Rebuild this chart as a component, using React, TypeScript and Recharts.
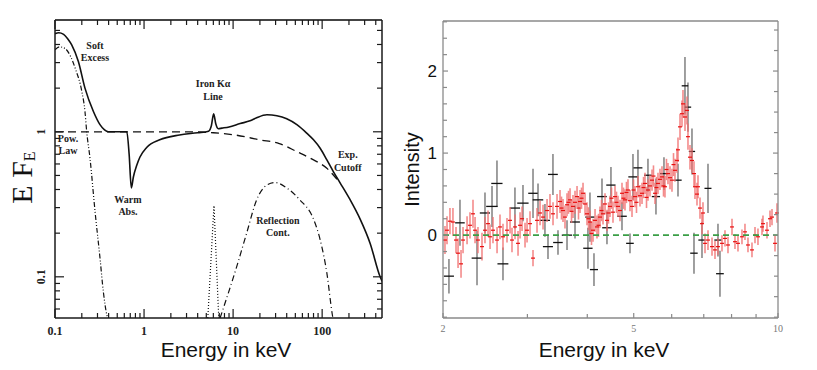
import React from 'react';
import {
  ComposedChart,
  Line,
  XAxis,
  YAxis,
  ReferenceDot,
  ScatterChart,
  Scatter,
  ErrorBar,
  ReferenceLine,
} from 'recharts';

const SERIF = '"Liberation Serif", "Times New Roman", serif';
const SANS = '"Liberation Sans", Arial, sans-serif';

// ---- left panel: model components, [energy keV, E*F_E] ----
const totalModel: [number, number][] = [
  [0.1, 4.75], [0.11, 4.82], [0.125, 4.7], [0.14, 4.35], [0.154, 3.98], [0.183, 3.05],
  [0.217, 2.0], [0.27, 1.38], [0.32, 1.12], [0.36, 1.03], [0.397, 1.0], [0.5, 1.0],
  [0.64, 1.0], [0.68, 0.7], [0.72, 0.41], [0.76, 0.49], [0.83, 0.59], [0.9, 0.67],
  [1.07, 0.78], [1.5, 0.88], [2.5, 0.95], [4, 0.985], [5.3, 1.01], [5.7, 1.1],
  [6.05, 1.33], [6.4, 1.13], [6.8, 1.05], [7.5, 1.06], [9, 1.08], [12, 1.14],
  [15.5, 1.19], [18.4, 1.25], [24, 1.31], [31, 1.29], [40, 1.23], [52, 1.12],
  [67, 0.98], [80, 0.88], [95, 0.77], [113, 0.64], [134, 0.53], [159, 0.445],
  [206, 0.34], [267, 0.25], [346, 0.17], [448, 0.1], [472, 0.093],
];
const powerLaw: [number, number][] = [
  [0.1, 1.0], [1, 1.0], [3, 1.0], [6, 0.985], [10, 0.955], [20, 0.88], [33, 0.83],
  [52, 0.73], [80, 0.64], [113, 0.56], [135, 0.5], [158, 0.445],
];
const softExcess: [number, number][] = [
  [0.1, 3.68], [0.113, 3.85], [0.13, 3.75], [0.15, 3.3], [0.17, 2.7], [0.2, 1.9],
  [0.217, 1.38], [0.227, 1.0], [0.247, 0.66], [0.282, 0.28], [0.32, 0.135],
  [0.349, 0.079], [0.381, 0.055], [0.39, 0.052],
];
const ironLine: [number, number][] = [[5.2, 0.052], [6.1, 0.31], [6.9, 0.052]];
const reflection: [number, number][] = [
  [7.14, 0.052], [11, 0.118], [14.2, 0.2], [18.4, 0.34], [24, 0.43], [29.7, 0.447],
  [40, 0.41], [56, 0.34], [80, 0.25], [95, 0.18], [113, 0.106], [130, 0.055], [132, 0.052],
];

const leftXTicks = [
  0.1, 0.2, 0.3, 0.4, 0.5, 0.6, 0.7, 0.8, 0.9, 1, 2, 3, 4, 5, 6, 7, 8, 9,
  10, 20, 30, 40, 50, 60, 70, 80, 90, 100, 200, 300, 400,
];
const leftXMajor = [0.1, 1, 10, 100];
const leftYTicks = [
  0.06, 0.07, 0.08, 0.09, 0.1, 0.2, 0.3, 0.4, 0.5, 0.6, 0.7, 0.8, 0.9, 1, 2, 3, 4, 5,
];
const leftYMajor = [0.1, 1];

const notes = [
  { e: 0.281, f: 3.59, lines: ['Soft', 'Excess'] },
  { e: 5.96, f: 1.95, lines: ['Iron K\u03b1', 'Line'] },
  { e: 0.14, f: 0.82, lines: ['Pow.', 'Law'] },
  { e: 0.66, f: 0.311, lines: ['Warm', 'Abs.'] },
  { e: 194, f: 0.63, lines: ['Exp.', 'Cutoff'] },
  { e: 31.8, f: 0.223, lines: ['Reflection', 'Cont.'] },
];

// ---- right panel: residual spectrum ----
// black: [energy keV, intensity, error, bin half-width keV]
const blackBins: [number, number, number, number][] = [
  [2.058, -0.5, 0.21, 0.05], [2.17, 0.15, 0.28, 0.05], [2.355, -0.28, 0.33, 0.06],
  [2.447, 0.27, 0.25, 0.06], [2.531, 0.35, 0.25, 0.07], [2.592, 0.63, 0.28, 0.07],
  [2.668, -0.35, 0.2, 0.07], [2.826, 0.33, 0.25, 0.07], [2.937, 0.39, 0.22, 0.08],
  [3.082, 0.51, 0.3, 0.07], [3.157, 0.43, 0.2, 0.08], [3.264, 0.18, 0.2, 0.08],
  [3.312, -0.14, 0.15, 0.08], [3.392, 0.74, 0.25, 0.08], [3.475, -0.09, 0.15, 0.08],
  [3.629, 0.0, 0.18, 0.09], [3.771, 0.16, 0.2, 0.09], [4.013, -0.16, 0.25, 0.09],
  [4.052, 0.22, 0.3, 0.09], [4.131, -0.42, 0.2, 0.08], [4.293, 0.47, 0.22, 0.1],
  [4.397, 0.09, 0.2, 0.1], [4.482, 0.61, 0.22, 0.1], [4.726, 0.23, 0.17, 0.11],
  [4.911, -0.1, 0.12, 0.09], [4.982, 0.71, 0.28, 0.11], [5.103, 0.82, 0.22, 0.11],
  [5.354, 0.73, 0.2, 0.1], [5.564, 0.47, 0.22, 0.11], [5.782, 0.75, 0.2, 0.11],
  [6.185, 0.67, 0.2, 0.11], [6.396, 1.82, 0.35, 0.1], [6.489, 1.56, 0.3, 0.1],
  [6.615, 1.02, 0.28, 0.1], [6.679, -0.22, 0.25, 0.12], [6.941, -0.06, 0.22, 0.12],
  [7.144, 0.57, 0.3, 0.12], [7.495, -0.06, 0.2, 0.13], [7.567, -0.47, 0.28, 0.14],
];

// red: [energy keV, intensity, error]
const redBins: [number, number, number][] = [
  [2.019, -0.06, 0.17], [2.039, 0.06, 0.17], [2.068, 0.17, 0.16], [2.098, 0.16, 0.17],
  [2.129, -0.06, 0.16], [2.15, -0.22, 0.18], [2.181, -0.35, 0.17], [2.202, -0.06, 0.16],
  [2.245, 0.06, 0.17], [2.277, 0.12, 0.16], [2.31, 0.26, 0.17], [2.333, 0.06, 0.16],
  [2.366, -0.06, 0.16], [2.412, -0.14, 0.17], [2.447, 0.06, 0.16], [2.483, 0.14, 0.16],
  [2.507, -0.02, 0.15], [2.543, 0.06, 0.16], [2.593, -0.06, 0.16], [2.63, 0.1, 0.15],
  [2.668, -0.02, 0.16], [2.72, 0.06, 0.15], [2.76, 0.18, 0.16], [2.786, -0.06, 0.15],
  [2.827, 0.1, 0.15], [2.868, -0.1, 0.15], [2.896, 0.12, 0.16], [2.924, 0.2, 0.15],
  [2.966, 0.0, 0.15], [2.995, 0.06, 0.15], [3.038, 0.14, 0.15], [3.082, -0.28, 0.1],
  [3.142, 0.18, 0.15], [3.188, 0.27, 0.15], [3.234, 0.22, 0.15], [3.297, 0.3, 0.14],
  [3.344, 0.35, 0.15], [3.393, 0.26, 0.14], [3.459, 0.35, 0.15], [3.509, 0.41, 0.14],
  [3.534, 0.33, 0.14], [3.56, 0.3, 0.14], [3.594, 0.22, 0.14], [3.629, 0.37, 0.14],
  [3.655, 0.4, 0.14], [3.682, 0.43, 0.14], [3.708, 0.29, 0.14], [3.735, 0.35, 0.14],
  [3.771, 0.4, 0.14], [3.808, 0.47, 0.13], [3.835, 0.33, 0.14], [3.863, 0.41, 0.14],
  [3.891, 0.45, 0.13], [3.919, 0.51, 0.13], [3.957, 0.38, 0.14], [3.995, 0.26, 0.14],
  [4.024, 0.2, 0.14], [4.053, 0.16, 0.14], [4.082, 0.02, 0.14], [4.112, 0.06, 0.14],
  [4.152, 0.18, 0.14], [4.191, 0.1, 0.14], [4.222, 0.12, 0.14], [4.252, 0.22, 0.13],
  [4.283, 0.3, 0.13], [4.314, 0.26, 0.13], [4.356, 0.38, 0.13], [4.398, 0.18, 0.13],
  [4.43, 0.27, 0.13], [4.461, 0.35, 0.13], [4.494, 0.45, 0.13], [4.526, 0.28, 0.13],
  [4.57, 0.47, 0.13], [4.603, 0.4, 0.13], [4.636, 0.35, 0.13], [4.681, 0.3, 0.13],
  [4.726, 0.51, 0.13], [4.76, 0.45, 0.13], [4.795, 0.43, 0.13], [4.829, 0.52, 0.13],
  [4.864, 0.55, 0.13], [4.911, 0.42, 0.13], [4.959, 0.35, 0.13], [4.995, 0.55, 0.13],
  [5.031, 0.47, 0.13], [5.067, 0.4, 0.13], [5.104, 0.59, 0.13], [5.153, 0.48, 0.13],
  [5.203, 0.51, 0.13], [5.241, 0.58, 0.13], [5.278, 0.63, 0.13], [5.317, 0.46, 0.13],
  [5.355, 0.55, 0.13], [5.406, 0.6, 0.13], [5.459, 0.67, 0.13], [5.498, 0.72, 0.13],
  [5.538, 0.51, 0.13], [5.578, 0.58, 0.13], [5.618, 0.63, 0.13], [5.672, 0.68, 0.13],
  [5.727, 0.71, 0.13], [5.769, 0.6, 0.13], [5.81, 0.59, 0.13], [5.852, 0.8, 0.13],
  [5.895, 0.75, 0.13], [5.952, 0.7, 0.14], [6.009, 0.67, 0.14], [6.053, 0.86, 0.14],
  [6.096, 0.79, 0.14], [6.155, 0.91, 0.15], [6.185, 1.04, 0.15], [6.245, 1.32, 0.16],
  [6.305, 1.48, 0.16], [6.335, 1.6, 0.17], [6.397, 1.44, 0.17], [6.458, 1.52, 0.17],
  [6.489, 1.2, 0.16], [6.552, 0.95, 0.15], [6.615, 0.91, 0.15], [6.679, 0.75, 0.15],
  [6.711, 0.59, 0.15], [6.776, 0.5, 0.14], [6.809, 0.59, 0.14], [6.875, 0.33, 0.13],
  [6.941, 0.14, 0.13], [6.974, 0.27, 0.13], [7.042, -0.1, 0.12], [7.144, -0.06, 0.12],
  [7.283, -0.14, 0.11], [7.388, -0.18, 0.11], [7.495, -0.14, 0.1], [7.641, -0.1, 0.1],
  [7.752, -0.04, 0.1], [7.864, -0.12, 0.1], [8.017, 0.1, 0.1], [8.133, -0.08, 0.09],
  [8.251, -0.1, 0.1], [8.411, -0.02, 0.09], [8.533, 0.04, 0.1], [8.657, -0.12, 0.09],
  [8.825, -0.18, 0.09], [8.954, 0.0, 0.1], [9.083, -0.02, 0.1], [9.26, 0.1, 0.1],
  [9.304, 0.14, 0.1], [9.485, 0.06, 0.1], [9.623, 0.2, 0.1], [9.716, 0.22, 0.1],
  [9.857, -0.1, 0.1], [9.952, 0.27, 0.12],
];
// red bins have a constant width in log energy (half-width as a fraction of E)
const RED_HALF_BIN = 0.0096;

const rightXTicks = [2, 3, 4, 5, 6, 7, 8, 9, 10];
const rightXMajor = [2, 5, 10];
const rightYTicksL = [
  -1, -0.8, -0.6, -0.4, -0.2, 0, 0.2, 0.4, 0.6, 0.8, 1, 1.2, 1.4, 1.6, 1.8, 2, 2.2, 2.4, 2.6,
];
const rightYTicksR = [
  -1, -0.75, -0.5, -0.25, 0, 0.25, 0.5, 0.75, 1, 1.25, 1.5, 1.75, 2, 2.25, 2.5,
];
const rightYMajor = [0, 1, 2];

const toPts = (arr: [number, number][]) => arr.map(([e, f]) => ({ e, f }));

const blackPts = blackBins.map(([x, y, ey, ex]) => ({ x, y, ey, ex }));
const redPts = redBins.map(([x, y, ey]) => ({ x, y, ey, ex: x * RED_HALF_BIN }));

type Side = 'bottom' | 'top' | 'left' | 'right';

function makeTick(
  side: Side,
  majors: number[],
  majorLen: number,
  minorLen: number,
  stroke: string,
  label?: (x: number, y: number, v: number) => React.ReactNode
) {
  return (props: any) => {
    const { x, y, payload } = props;
    const v = payload.value;
    const isMajor = majors.some((m) => Math.abs(m - v) < 1e-9);
    const len = isMajor ? majorLen : minorLen;
    let x2 = x;
    let y2 = y;
    if (side === 'bottom') y2 = y - len;
    if (side === 'top') y2 = y + len;
    if (side === 'left') x2 = x + len;
    if (side === 'right') x2 = x - len;
    return (
      <g>
        <line x1={x} y1={y} x2={x2} y2={y2} stroke={stroke} strokeWidth={1.2} />
        {isMajor && label ? label(x, y, v) : null}
      </g>
    );
  };
}

const xTitle = (text: string, dx: number, dy: number) => (p: any) => {
  const vb = p.viewBox;
  return (
    <text x={vb.x + vb.width / 2 + dx} y={vb.y + dy} textAnchor="middle" fontFamily={SANS} fontSize={21} fill="#111">
      {text}
    </text>
  );
};

const leftYTitle = (p: any) => {
  const vb = p.viewBox;
  const cx = vb.x + 32;
  const cy = vb.y + vb.height / 2 + 8.5;
  return (
    <text transform={`rotate(-90 ${cx} ${cy})`} x={cx} y={cy} textAnchor="middle" fontFamily={SERIF} fontSize={30} fill="#111">
      E F
      <tspan fontSize={16} dy={3}>E</tspan>
    </text>
  );
};

const rightYTitle = (p: any) => {
  const vb = p.viewBox;
  const cx = vb.x + 19;
  const cy = vb.y + vb.height / 2;
  return (
    <text transform={`rotate(-90 ${cx} ${cy})`} x={cx} y={cy} textAnchor="middle" fontFamily={SANS} fontSize={20} fill="#111">
      Intensity
    </text>
  );
};

const noteLabel = (lines: string[]) => (p: any) => {
  const vb = p.viewBox;
  const cx = vb.x + (vb.width || 0) / 2;
  const cy = vb.y + (vb.height || 0) / 2;
  return (
    <text textAnchor="middle" fontFamily={SERIF} fontWeight="bold" fontSize={10} fill="#222">
      <tspan x={cx} y={cy - 2.5}>{lines[0]}</tspan>
      <tspan x={cx} y={cy + 10}>{lines[1]}</tspan>
    </text>
  );
};

const leftXLabel = (x: number, y: number, v: number) => (
  <text x={x} y={y + 17} textAnchor="middle" fontFamily={SERIF} fontWeight="bold" fontSize={12} fill="#222">
    {String(v)}
  </text>
);
const leftYLabel = (x: number, y: number, v: number) => {
  const tx = x - 10;
  return (
    <text transform={`rotate(-90 ${tx} ${y})`} x={tx} y={y} textAnchor="middle" fontFamily={SERIF} fontWeight="bold" fontSize={12} fill="#222">
      {String(v)}
    </text>
  );
};
const rightXLabel = (x: number, y: number, v: number) => (
  <text x={x} y={y + 14} textAnchor="middle" fontFamily={SERIF} fontSize={10} fill="#777">
    {String(v)}
  </text>
);
const rightYLabel = (x: number, y: number, v: number) => (
  <text x={x - 6} y={y + 6} textAnchor="end" fontFamily={SANS} fontSize={17} fill="#111">
    {String(v)}
  </text>
);

const Blank = () => <g />;

const LEFT_STROKE = '#1a1a1a';
const RIGHT_STROKE = '#8a8a8a';

const ModelPanel = () => (
  <ComposedChart width={400} height={370} margin={{ top: 0, right: 0, bottom: 0, left: 0 }}>
    <XAxis
      xAxisId="b" dataKey="e" type="number" scale="log" domain={[0.1, 470]} allowDataOverflow
      ticks={leftXTicks} interval={0} tickSize={0} tickMargin={0} height={52}
      axisLine={{ stroke: LEFT_STROKE, strokeWidth: 1.5 }} tickLine={false}
      tick={makeTick('bottom', leftXMajor, 9, 5, LEFT_STROKE, leftXLabel)}
      label={xTitle('Energy in keV', 7.5, 39)}
    />
    <XAxis
      xAxisId="t" orientation="top" dataKey="e" type="number" scale="log" domain={[0.1, 470]} allowDataOverflow
      ticks={leftXTicks} interval={0} tickSize={0} tickMargin={0} height={20}
      axisLine={{ stroke: '#444', strokeWidth: 2 }} tickLine={false}
      tick={makeTick('top', leftXMajor, 9, 5, LEFT_STROKE)}
    />
    <YAxis
      yAxisId="l" type="number" scale="log" domain={[0.052, 5.9]} allowDataOverflow
      ticks={leftYTicks} interval={0} tickSize={0} tickMargin={0} width={55}
      axisLine={{ stroke: LEFT_STROKE, strokeWidth: 1.5 }} tickLine={false}
      tick={makeTick('left', leftYMajor, 9, 5, LEFT_STROKE, leftYLabel)}
      label={leftYTitle}
    />
    <YAxis
      yAxisId="r" orientation="right" type="number" scale="log" domain={[0.052, 5.9]} allowDataOverflow
      ticks={leftYTicks} interval={0} tickSize={0} tickMargin={0} width={18}
      axisLine={{ stroke: LEFT_STROKE, strokeWidth: 1.5 }} tickLine={false}
      tick={makeTick('right', leftYMajor, 9, 5, LEFT_STROKE)}
    />
    <Line xAxisId="b" yAxisId="l" data={toPts(powerLaw)} dataKey="f" type="monotone" dot={false}
      stroke="#111" strokeWidth={1.3} strokeDasharray="8 5" isAnimationActive={false} />
    <Line xAxisId="b" yAxisId="l" data={toPts(softExcess)} dataKey="f" type="monotone" dot={false}
      stroke="#111" strokeWidth={1.2} strokeDasharray="5 2 1 2 1 2" isAnimationActive={false} />
    <Line xAxisId="b" yAxisId="l" data={toPts(ironLine)} dataKey="f" type="linear" dot={false}
      stroke="#111" strokeWidth={1.2} strokeDasharray="1 2" isAnimationActive={false} />
    <Line xAxisId="b" yAxisId="l" data={toPts(reflection)} dataKey="f" type="monotone" dot={false}
      stroke="#111" strokeWidth={1.2} strokeDasharray="6 3 1 3" isAnimationActive={false} />
    <Line xAxisId="b" yAxisId="l" data={toPts(totalModel)} dataKey="f" type="monotone" dot={false}
      stroke="#111" strokeWidth={1.6} isAnimationActive={false} />
    {notes.map((n) => (
      <ReferenceDot key={n.lines[0]} xAxisId="b" yAxisId="l" x={n.e} y={n.f} r={1}
        fill="none" stroke="none" label={noteLabel(n.lines)} />
    ))}
  </ComposedChart>
);

const ResidualPanel = () => (
  <ScatterChart width={417} height={370} margin={{ top: 0, right: 0, bottom: 0, left: 0 }}>
    <XAxis
      xAxisId="b" dataKey="x" type="number" scale="log" domain={[2, 10]} allowDataOverflow
      ticks={rightXTicks} interval={0} tickSize={0} tickMargin={0} height={52}
      axisLine={{ stroke: RIGHT_STROKE, strokeWidth: 1.3 }} tickLine={false}
      tick={makeTick('bottom', rightXMajor, 5, 4, RIGHT_STROKE, rightXLabel)}
      label={xTitle('Energy in keV', -6.5, 39)}
    />
    <XAxis
      xAxisId="t" orientation="top" dataKey="x" type="number" scale="log" domain={[2, 10]} allowDataOverflow
      height={21} tick={false} tickLine={false}
      axisLine={{ stroke: RIGHT_STROKE, strokeWidth: 1.3 }}
    />
    <YAxis
      yAxisId="l" dataKey="y" type="number" domain={[-1.01, 2.61]} allowDataOverflow
      ticks={rightYTicksL} interval={0} tickSize={0} tickMargin={0} width={43}
      axisLine={{ stroke: RIGHT_STROKE, strokeWidth: 1.3 }} tickLine={false}
      tick={makeTick('left', rightYMajor, 5, 4, RIGHT_STROKE, rightYLabel)}
      label={rightYTitle}
    />
    <YAxis
      yAxisId="r" orientation="right" type="number" domain={[-1.01, 2.61]} allowDataOverflow
      ticks={rightYTicksR} interval={0} tickSize={0} tickMargin={0} width={39}
      axisLine={{ stroke: RIGHT_STROKE, strokeWidth: 1.3 }} tickLine={false}
      tick={makeTick('right', rightYMajor, 5, 4, RIGHT_STROKE)}
    />
    <Scatter xAxisId="b" yAxisId="l" data={blackPts} shape={Blank} isAnimationActive={false}>
      <ErrorBar dataKey="ey" direction="y" width={0} stroke="#555" strokeWidth={1.4} strokeOpacity={0.8} />
      <ErrorBar dataKey="ex" direction="x" width={0} stroke="#111" strokeWidth={1.3} />
    </Scatter>
    <Scatter xAxisId="b" yAxisId="l" data={redPts} shape={Blank} isAnimationActive={false}>
      <ErrorBar dataKey="ey" direction="y" width={0} stroke="#f06e6e" strokeWidth={1.6} strokeOpacity={0.8} />
      <ErrorBar dataKey="ex" direction="x" width={0} stroke="#e81010" strokeWidth={1.2} />
    </Scatter>
    <ReferenceLine xAxisId="b" yAxisId="l" y={0} stroke="#3a9e46" strokeWidth={1.6} strokeDasharray="6 4" />
  </ScatterChart>
);

export default function App() {
  return (
    <div style={{ position: 'absolute', left: 0, top: 0, width: 817, height: 370, background: '#fff', display: 'flex' }}>
      <ModelPanel />
      <ResidualPanel />
    </div>
  );
}
